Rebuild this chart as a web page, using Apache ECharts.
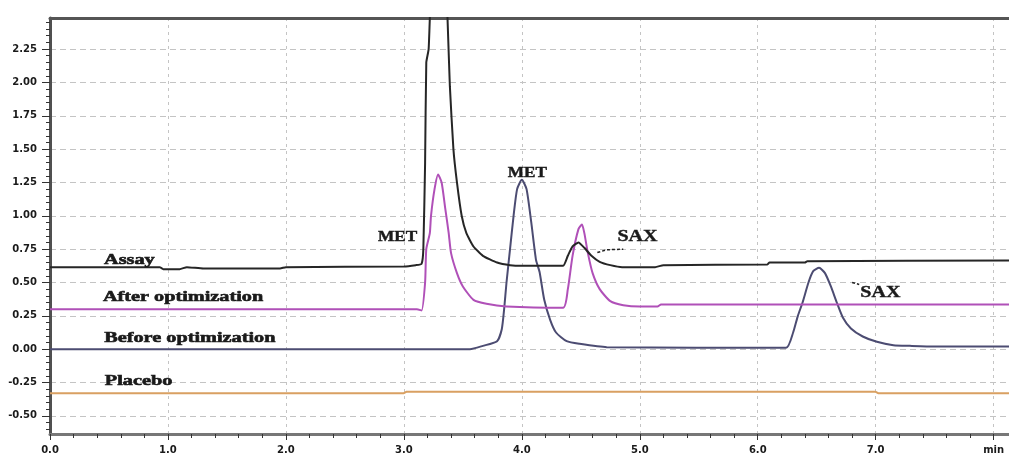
<!DOCTYPE html>
<html><head><meta charset="utf-8">
<script src="https://cdn.jsdelivr.net/npm/echarts@6/dist/echarts.min.js"></script>
<style>html,body{margin:0;padding:0;background:#fff}#c{width:1009px;height:455px}</style>
</head><body><div id="c"></div>
<script>
// ---- data ----
const xTicks = [0, 1, 2, 3, 4, 5, 6, 7, 8];
const xTickLabels = ['0.0', '1.0', '2.0', '3.0', '4.0', '5.0', '6.0', '7.0', 'min'];
const yTicks = [-0.5, -0.25, 0, 0.25, 0.5, 0.75, 1.0, 1.25, 1.5, 1.75, 2.0, 2.25];
const yTickLabels = ['-0.50', '-0.25', '0.00', '0.25', '0.50', '0.75', '1.00', '1.25', '1.50', '1.75', '2.00', '2.25'];

const seriesNames = ['Assay', 'After optimization', 'Before optimization', 'Placebo'];

const assayX = [0, 0.93, 0.96, 1.10, 1.16, 1.30, 1.95, 2.00, 3.00, 3.10, 3.15, 3.165, 3.18, 3.19, 3.21, 3.225, 3.28, 3.34, 3.37, 3.39, 3.42, 3.45, 3.49, 3.53, 3.59, 3.67, 3.79, 3.90, 4.00, 4.35, 4.39, 4.43, 4.48, 4.53, 4.59, 4.66, 4.75, 4.85, 5.13, 5.20, 6.08, 6.10, 6.40, 6.42, 8.13];
const assayY = [0.615, 0.615, 0.60, 0.60, 0.615, 0.605, 0.605, 0.615, 0.62, 0.63, 0.64, 0.75, 1.40, 2.15, 2.25, 2.60, 3.40, 3.10, 2.48, 1.97, 1.50, 1.25, 1.00, 0.87, 0.77, 0.70, 0.65, 0.63, 0.625, 0.625, 0.70, 0.77, 0.80, 0.76, 0.70, 0.655, 0.63, 0.615, 0.615, 0.63, 0.635, 0.65, 0.65, 0.66, 0.665];

const afterX = [0, 3.11, 3.15, 3.18, 3.19, 3.22, 3.23, 3.26, 3.29, 3.32, 3.35, 3.38, 3.40, 3.45, 3.50, 3.59, 3.70, 3.87, 4.35, 4.39, 4.43, 4.48, 4.51, 4.53, 4.56, 4.60, 4.66, 4.75, 4.86, 5.00, 5.15, 5.18, 8.13];
const afterY = [0.30, 0.30, 0.29, 0.50, 0.75, 0.87, 1.00, 1.20, 1.31, 1.25, 1.06, 0.87, 0.72, 0.57, 0.47, 0.37, 0.34, 0.32, 0.31, 0.45, 0.70, 0.90, 0.935, 0.87, 0.72, 0.57, 0.45, 0.36, 0.33, 0.32, 0.32, 0.335, 0.335];

const beforeX = [0, 3.56, 3.67, 3.79, 3.83, 3.85, 3.87, 3.90, 3.93, 3.96, 4.00, 4.04, 4.08, 4.12, 4.15, 4.19, 4.24, 4.29, 4.38, 4.49, 4.72, 6.24, 6.30, 6.34, 6.38, 6.43, 6.47, 6.52, 6.57, 6.62, 6.67, 6.72, 6.79, 6.89, 7.01, 7.15, 7.29, 7.50, 8.13];
const beforeY = [0, 0, 0.025, 0.06, 0.15, 0.30, 0.50, 0.75, 1.00, 1.20, 1.27, 1.20, 0.95, 0.67, 0.58, 0.37, 0.22, 0.125, 0.06, 0.04, 0.015, 0.01, 0.125, 0.25, 0.35, 0.50, 0.585, 0.61, 0.57, 0.47, 0.35, 0.24, 0.155, 0.095, 0.055, 0.03, 0.025, 0.02, 0.02];

const placeboX = [0, 3.00, 3.02, 7.00, 7.02, 8.13];
const placeboY = [-0.33, -0.33, -0.32, -0.32, -0.33, -0.33];

const peakLabels = ['MET', 'MET', 'SAX', 'SAX'];

// ---- layout / style ----
const X_MIN = 0, X_MAX = 8.13, Y_MIN = -0.636, Y_MAX = 2.483;
const colors = ['#262626', '#b050b8', '#4c4c72', '#d9a062'];
const smoothing = [0.15, 0.2, 0.2, 0];
const traceLabelPos = [[0.458, 0.67], [0.449, 0.39], [0.46, 0.086], [0.465, -0.236]];
const peakLabelPos = [[2.78, 0.84], [3.88, 1.32], [4.81, 0.845], [6.87, 0.42]];
const leaders = [[[4.64, 0.725], [4.72, 0.745], [4.86, 0.75]], [[6.80, 0.50], [6.86, 0.485]]];

function zip(xs, ys) { return xs.map((x, i) => [x, ys[i]]); }
const xMinor = []; for (let i = 1; i < 41; i++) { if (i % 5) xMinor.push(+(i * 0.2).toFixed(2)); }
const yMinor = []; for (let i = -12; i <= 49; i++) { if (i % 5) yMinor.push(+(i * 0.05).toFixed(2)); }

const chart = echarts.init(document.getElementById('c'), null, { renderer: 'canvas' });
const axisLab = { fontFamily: 'DejaVu Sans, sans-serif', fontWeight: 'bold', fontSize: 10, color: '#1a1a1a' };

const option = {
  animation: false,
  backgroundColor: '#fff',
  grid: { left: 50, right: 0, top: 18, bottom: 20, containLabel: false },
  xAxis: [
    {
      type: 'value', min: X_MIN, max: X_MAX, position: 'bottom',
      axisLine: { show: true, onZero: false, lineStyle: { color: '#777', width: 3 } },
      axisTick: { show: true, customValues: xTicks, length: 6, lineStyle: { color: '#333', width: 1 } },
      axisLabel: Object.assign({ customValues: xTicks, margin: 11, formatter: v => xTickLabels[xTicks.indexOf(Math.round(v))] }, axisLab),
      splitLine: { show: true, lineStyle: { color: '#c4c4c4', width: 1, type: [3, 4] } }
    },
    {
      type: 'value', min: X_MIN, max: X_MAX, position: 'bottom',
      axisLine: { show: false, onZero: false }, axisLabel: { show: false }, splitLine: { show: false },
      axisTick: { show: true, customValues: xMinor, length: 4, lineStyle: { color: '#333', width: 1 } }
    },
    {
      type: 'value', min: X_MIN, max: X_MAX, position: 'top',
      axisLine: { show: true, onZero: false, lineStyle: { color: '#555', width: 3 } },
      axisTick: { show: false }, axisLabel: { show: false }, splitLine: { show: false }
    }
  ],
  yAxis: [
    {
      type: 'value', min: Y_MIN, max: Y_MAX, position: 'left',
      axisLine: { show: true, onZero: false, lineStyle: { color: '#505050', width: 3 } },
      axisTick: { show: true, customValues: yTicks, length: 8, lineStyle: { color: '#333', width: 1 } },
      axisLabel: Object.assign({ customValues: yTicks, margin: 13, formatter: v => yTickLabels[yTicks.indexOf(Math.round(v * 100) / 100)] }, axisLab),
      splitLine: { show: true, lineStyle: { color: '#c4c4c4', width: 1, type: [6, 4] } }
    },
    {
      type: 'value', min: Y_MIN, max: Y_MAX, position: 'left',
      axisLine: { show: false, onZero: false }, axisLabel: { show: false }, splitLine: { show: false },
      axisTick: { show: true, customValues: yMinor, length: 4, lineStyle: { color: '#333', width: 1 } }
    }
  ],
  series: [
    [assayX, assayY], [afterX, afterY], [beforeX, beforeY], [placeboX, placeboY]
  ].map((d, i) => ({
    name: seriesNames[i], type: 'line', data: zip(d[0], d[1]), showSymbol: false, clip: true,
    smooth: smoothing[i],
    lineStyle: { color: colors[i], width: 2 }, z: 5 - i
  }))
};
chart.setOption(option);

const toPx = p => chart.convertToPixel({ gridIndex: 0 }, p);
const graphics = [];
seriesNames.forEach((t, i) => {
  const p = toPx(traceLabelPos[i]);
  graphics.push({ type: 'text', x: p[0], y: p[1], scaleX: 1.35, z: 100,
    style: { text: t, font: 'bold 15px "Liberation Serif", "Times New Roman", serif', fill: '#1a1a1a', stroke: '#1a1a1a', lineWidth: 0.6, textAlign: 'left', textVerticalAlign: 'middle' } });
});
peakLabels.forEach((t, i) => {
  const p = toPx(peakLabelPos[i]);
  const isMet = t === 'MET';
  graphics.push({ type: 'text', x: p[0], y: p[1], scaleX: isMet ? 1.15 : 1.25, z: 100,
    style: { text: t, font: (isMet ? 'bold 15px' : 'bold 16px') + ' "Liberation Serif", "Times New Roman", serif', fill: '#1a1a1a', stroke: '#1a1a1a', lineWidth: 0.4, textAlign: 'left', textVerticalAlign: 'middle' } });
});
leaders.forEach(pts => {
  graphics.push({ type: 'polyline', z: 100, shape: { points: pts.map(toPx) },
    style: { stroke: '#222', lineWidth: 1.5, lineDash: [3, 2], fill: null } });
});
chart.setOption({ graphic: graphics });
</script>
</body></html>
